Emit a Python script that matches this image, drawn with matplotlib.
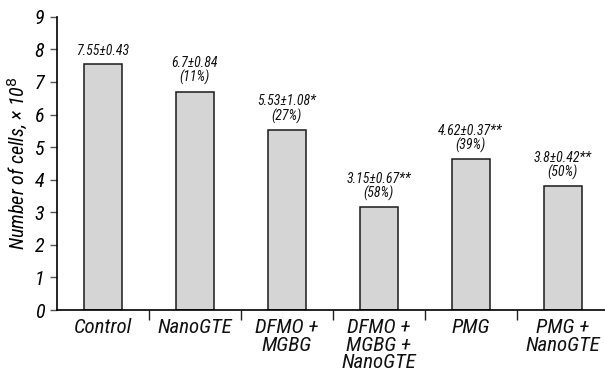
import matplotlib
matplotlib.use("Agg")
import matplotlib.pyplot as plt

categories = ["Control", "NanoGTE", "DFMO +\nMGBG", "DFMO +\nMGBG +\nNanoGTE", "PMG", "PMG +\nNanoGTE"]
values = [7.55, 6.7, 5.53, 3.15, 4.62, 3.8]
labels = ["7.55±0.43", "6.7±0.84\n(11%)", "5.53±1.08*\n(27%)", "3.15±0.67**\n(58%)",
          "4.62±0.37**\n(39%)", "3.8±0.42**\n(50%)"]
yticks = list(range(0, 10))

plt.rcParams['font.family'] = ['Roboto Condensed', 'DejaVu Sans']

fig = plt.figure(figsize=(6.05, 3.8), dpi=100)
ax = fig.add_axes([0.0937, 0.184, 0.9063, 0.772])

x = list(range(len(categories)))
ax.bar(x, values, width=0.41, color="#d5d5d5", edgecolor="#1a1a1a", linewidth=1.1, zorder=2)

for xi, v, lab in zip(x, values, labels):
    ax.annotate(lab, (xi, v), xytext=(0, 4.5), textcoords="offset points",
                ha="center", va="bottom", fontsize=10, style="italic",
                linespacing=1.0, color="#111111")

ax.set_xlim(-0.5, 5.46)
ax.set_ylim(0, 9)
ax.set_yticks(yticks)
ax.set_yticklabels([str(t) for t in yticks], fontsize=14.5, style="italic")
ax.tick_params(axis="y", direction="out", length=5, width=1, pad=4, color="#555555")

ax.set_xticks([i + 0.5 for i in range(len(categories) - 1)])
ax.set_xticklabels([])
ax.tick_params(axis="x", direction="out", length=7, width=1, color="#222222")
for xi, c in zip(x, categories):
    ax.annotate(c, (xi, 0), xytext=(0, -6), textcoords="offset points",
                ha="center", va="top", fontsize=15, style="italic",
                linespacing=0.9, color="#111111", annotation_clip=False)

ax.spines["top"].set_visible(False)
ax.spines["right"].set_visible(False)
ax.spines["left"].set_linewidth(1.2)
ax.spines["bottom"].set_linewidth(1.2)
ax.set_ylabel("Number of cells, × 10$^{\\mathit{8}}$", fontsize=14.5, style="italic", labelpad=3)

fig.savefig("out.png", dpi=100)
